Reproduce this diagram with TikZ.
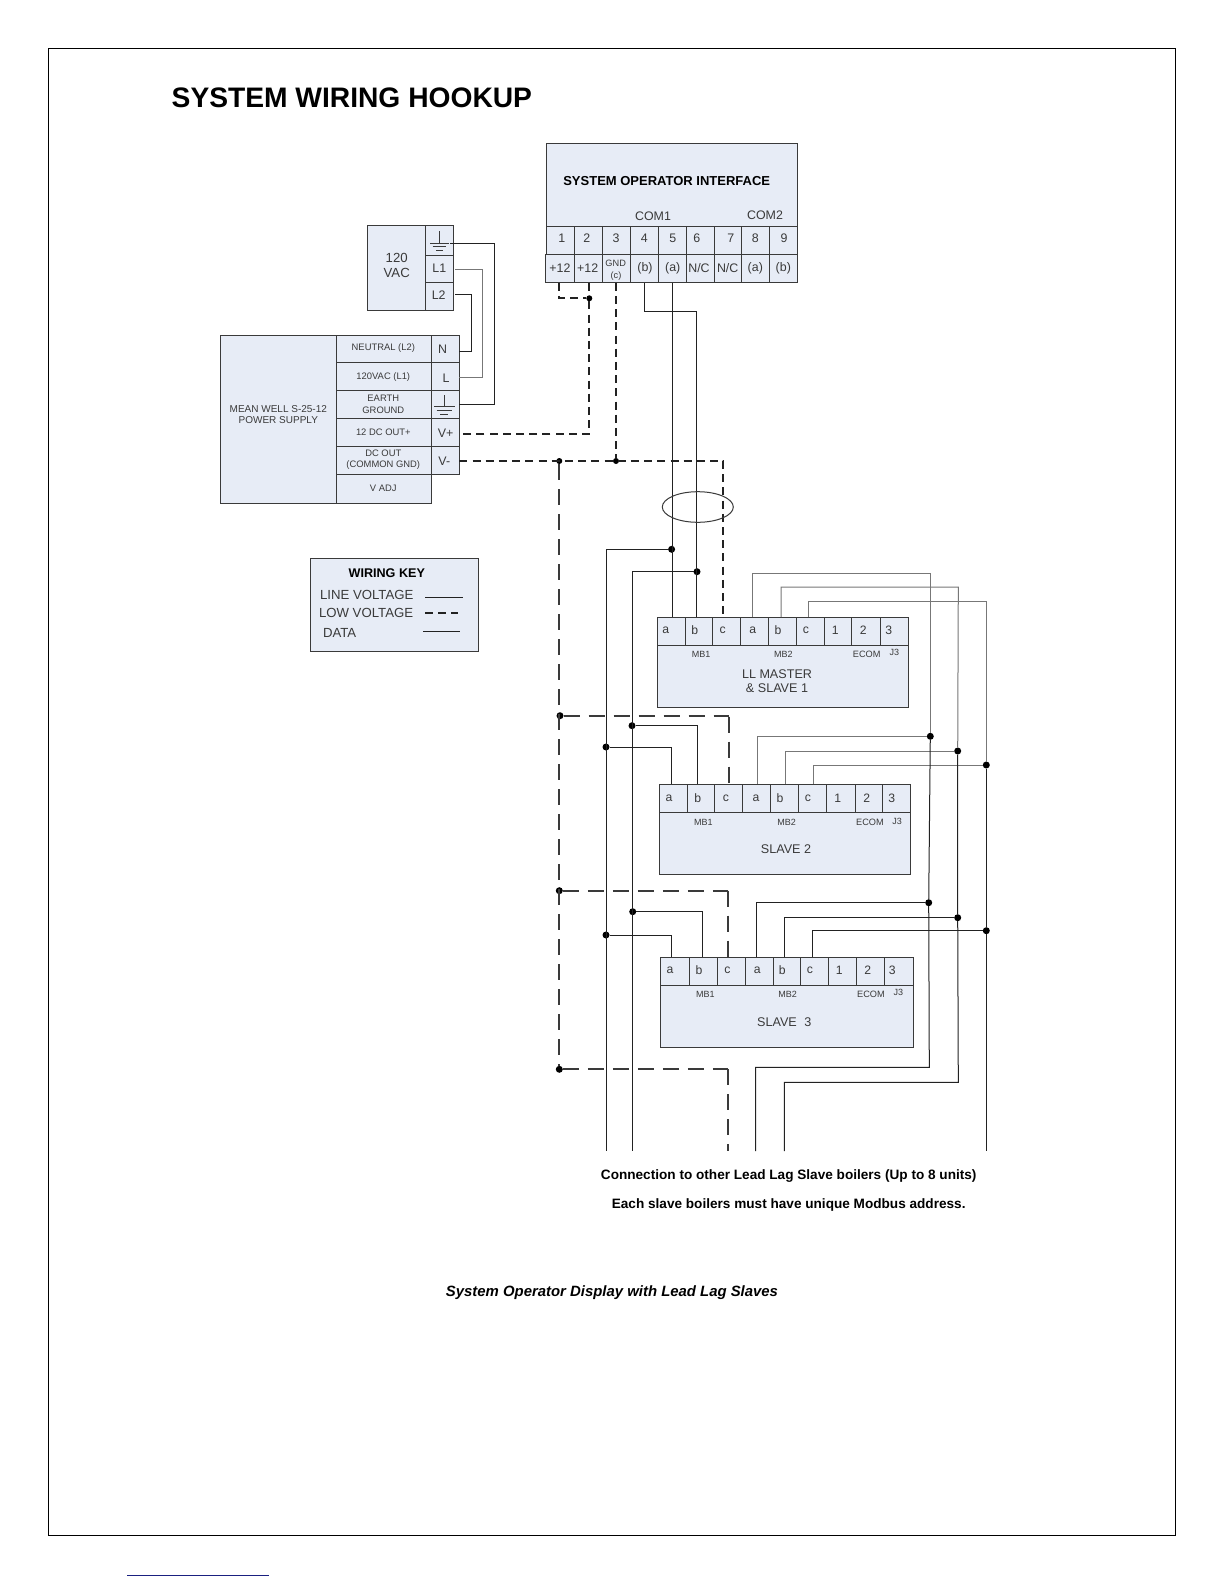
\documentclass[tikz,border=0pt]{standalone}
\usepackage{fontspec}
\usetikzlibrary{shapes.geometric}
\setmainfont{Liberation Sans}
\definecolor{boxfill}{HTML}{E7ECF6}
\definecolor{ink}{HTML}{3A3A3A}
\definecolor{wire}{HTML}{222222}
\definecolor{greywire}{HTML}{777777}
\definecolor{navy}{HTML}{1A2080}
\newcommand\Cell[5]{%
  \pgfmathsetlengthmacro\cellW{((#4)-(#2))*0.5pt}%
  \pgfmathsetlengthmacro\cellH{((#5)-(#3))*0.5pt}%
  \node[cellbox,minimum width=\cellW,minimum height=\cellH] (#1) at ({((#2)+(#4))/2},{((#3)+(#5))/2}) {};}
\newcommand\Fs[1]{\fontsize{#1}{#1}\selectfont}
\tikzset{
  x=0.5pt,y=-0.5pt,
  cellbox/.style={draw=ink,fill=boxfill,line width=0.5pt,inner sep=0pt,outer sep=0pt},
  lab/.style={inner sep=0pt,outer sep=0pt,text=ink,font=\Fs{6.2}},
  tiny/.style={lab,font=\Fs{4.7},align=center},
  mid/.style={lab,font=\Fs{6.3},align=center},
  heavy/.style={inner sep=0pt,outer sep=0pt,text=black,font=\bfseries\Fs{6.2}},
  linev/.style={draw=wire,line width=0.5pt},
  datav/.style={draw=wire,line width=0.5pt},
  greyv/.style={draw=greywire,line width=0.5pt},
  lowv/.style={draw=wire,line width=1.05pt,dash pattern=on 4pt off 2.6pt},
  lowvlong/.style={draw=ink,line width=0.85pt,dash pattern=on 8pt off 4.5pt},
  jdot/.style={circle,fill=black,inner sep=0pt,minimum size=3.5pt,outer sep=0pt},
  gnd/.style={draw=ink,line width=0.5pt},
}
\begin{document}
\begin{tikzpicture}
\useasboundingbox (0,0) rectangle (1224,1584);
\fill[white] (0,0) rectangle (1224,1584);
% page frame and footer rule
\draw[black,line width=0.5pt] (48.5,48.5) rectangle (1175.5,1535);
\draw[navy,line width=0.6pt] (127,1575.3) -- (269,1575.3);
\node[heavy,anchor=west,font=\bfseries\Fs{14.1}] (title) at (171.7,98) {SYSTEM WIRING HOOKUP};

% ---------- system operator interface
\Cell{soi}{546.7}{143.3}{797.3}{226.7}
\node[heavy,font=\bfseries\Fs{6.5}] (soititle) at (666.7,181) {SYSTEM OPERATOR INTERFACE};
\node[lab] (com1) at (653,216) {COM1};
\node[lab] (com2) at (765,215) {COM2};
\foreach \n/\a/\b/\t/\tx in {1/546.7/574.3/1/561.7,2/574.3/602.3/2/586.7,3/602.3/630.3/3/616,4/630.3/658/4/644.3,5/658/686/5/672.7,6/686/714/6/696.7,7/714/741.7/7/730.7,8/741.7/769.3/8/755.3,9/769.3/797.3/9/784}{
  \Cell{st\n}{\a}{226.7}{\b}{254.3}
  \node[lab] (stl\n) at (\tx,238) {\t};
}
\foreach \n/\a/\b/\t/\tx in {1/545.3/574.3/+12/560,2/574.3/602.3/+12/587.7,4/630.3/658/(b)/645,5/658/686/(a)/672.7,6/686/714/N\slash C/699,7/714/741.7/N\slash C/727.7,8/741.7/769.3/(a)/755.3,9/769.3/797.3/(b)/783.3}{
  \Cell{sb\n}{\a}{254.3}{\b}{282.7}
  \node[lab] (sbl\n) at (\tx,268) {\t};
}
\Cell{sb3}{602.3}{254.3}{630.3}{282.7}
\node[tiny,font=\Fs{4.6}] (sbl3a) at (615.7,263.5) {GND};
\node[tiny,font=\Fs{4.6}] (sbl3b) at (616,276.5) {(c)};

% ---------- 120 VAC
\Cell{vac}{367.3}{225}{425.3}{310.7}
\node[mid,font=\Fs{6.6}] (vac1) at (396.7,258.3) {120};
\node[mid,font=\Fs{6.6}] (vac2) at (396.7,273.3) {VAC};
\Cell{vacg}{425.3}{225}{453.3}{255}
\Cell{vacl1}{425.3}{255}{453.3}{282.7}
\Cell{vacl2}{425.3}{282.7}{453.3}{310.7}
\node[lab] (vacl1t) at (439.3,268.3) {L1};
\node[lab] (vacl2t) at (438.7,295) {L2};
\draw[gnd] (439.3,231) -- (439.3,243.3) (430,243.3) -- (448.7,243.3) (432.7,246.7) -- (446,246.7) (436,250) -- (442.7,250);

% ---------- power supply
\Cell{psmain}{220}{335}{336}{503.3}
\node[tiny,font=\Fs{5}] (pstxt) at (278.3,414.5) {MEAN WELL S-25-12\\[0.6pt]POWER SUPPLY};
\foreach \n/\a/\b in {a/335/362.7,b/362.7/390.3,c/390.3/418.3,d/418.3/446,e/446/474.3,f/474.3/503.3}{
  \Cell{ps\n}{336}{\a}{431}{\b}
}
\foreach \n/\a/\b in {a/335/362.7,b/362.7/390.3,c/390.3/418.3,d/418.3/446,e/446/474.3}{
  \Cell{pr\n}{431}{\a}{459}{\b}
}
\node[tiny] (psat) at (383.3,348.3) {NEUTRAL (L2)};
\node[tiny] (psbt) at (383.3,376.7) {120VAC (L1)};
\node[tiny] (psct) at (383.3,404.2) {EARTH\\[1pt]GROUND};
\node[tiny] (psdt) at (383.3,432.3) {12 DC OUT+};
\node[tiny] (pset) at (383.3,459.5) {DC OUT\\[1pt](COMMON GND)};
\node[tiny] (psft) at (383.3,488.3) {V ADJ};
\node[lab] (pran) at (442.7,349.3) {N};
\node[lab] (prbn) at (446,378.3) {L};
\node[lab] (prdn) at (445.7,433.3) {V+};
\node[lab] (pren) at (444.3,461) {V-};
\draw[gnd] (444.3,395) -- (444.3,406.7) (434,406.7) -- (455,406.7) (436.7,410) -- (451.7,410) (440,414) -- (448.3,414);

% AC wires
\coordinate (vgo) at (450,243.3);
\coordinate (vlo) at (455,269);
\coordinate (v2o) at (455,294.3);
\coordinate (pgi) at (459.3,404.3);
\coordinate (pli) at (459.3,377.7);
\coordinate (pni) at (459.3,351.7);
\coordinate (tg) at (494,243.3);
\coordinate (tl) at (482.7,269);
\coordinate (tn) at (471.7,294.3);
\draw[linev] (vgo) -- (tg) -- (tg |- pgi) -- (pgi);
\draw[greyv] (vlo) -- (tl) -- (tl |- pli) -- (pli);
\draw[linev] (v2o) -- (tn) -- (tn |- pni) -- (pni);

% ---------- wiring key
\Cell{key}{310}{558.5}{478.7}{651.4}
\node[heavy,font=\bfseries\Fs{6.3}] (keyt) at (386.8,573.5) {WIRING KEY};
\node[lab,anchor=west,font=\Fs{6.6}] (k1) at (320,595) {LINE VOLTAGE};
\node[lab,anchor=west,font=\Fs{6.6}] (k2) at (319,613) {LOW VOLTAGE};
\node[lab,anchor=west,font=\Fs{6.6}] (k3) at (323,633) {DATA};
\coordinate (k1a) at (425,597); \coordinate (k1b) at (462.5,597);
\coordinate (k2a) at (425,613); \coordinate (k2b) at (457.5,613);
\coordinate (k3a) at (423,631); \coordinate (k3b) at (459.5,631);
\draw[linev] (k1a) -- (k1b);
\draw[lowv] (k2a) -- (k2b);
\draw[linev] (k3a) -- (k3b);

% ---------- boards
\foreach \p/\lx/\ty/\rx/\my/\by/\xs in {
  m/657/617/908.3/645/707.7/{685,712.7,740.7,768.3,796.3,824,851.7,880.7},
  s/659.3/784/910.7/812/874.3/{687,714.7,742.7,770.3,798.3,826,855,882.7},
  t/660.7/957.3/913/985/1047.7/{689.3,717.3,745.3,773,800.7,828.7,856.3,884}}{
  \Cell{\p body}{\lx}{\my}{\rx}{\by}
  \Cell{\p row}{\lx}{\ty}{\rx}{\my}
  \foreach \v [count=\i] in \xs { \coordinate (\p div\i) at (\v,\ty); \draw[draw=ink,line width=0.5pt] (\v,\ty) -- (\v,\my); }
}
\foreach \p/\yy/\xs in {
  m/630.5/{665.7,694.7,722.7,752.7,778,806,835.3,863.3,888.7},
  s/798/{669,697.7,726,756,780,808,837.7,866.7,891.7},
  t/970/{670,699,727.3,757.3,782.3,810,839.3,867.7,892.3}}{
  \foreach \v [count=\i] in {a,b,c,a,b,c,1,2,3}{
    \pgfmathsetmacro\labx{{\xs}[\i-1]}
    \node[lab,font=\Fs{6.1}] (\p l\i) at (\labx,\yy) {\v};
  }
}
\node[tiny,font=\Fs{4.5}] (mmb1) at (701,654) {MB1};
\node[tiny,font=\Fs{4.5}] (mmb2) at (783.3,654) {MB2};
\node[tiny,font=\Fs{4.6}] (mec) at (866.7,654) {ECOM};
\node[tiny,font=\Fs{4.5}] (mj3) at (894.3,652.7) {J3};
\node[mid] (mname) at (777,681) {LL MASTER\\[0.4pt]\& SLAVE 1};
\node[tiny,font=\Fs{4.5}] (smb1) at (703.3,822) {MB1};
\node[tiny,font=\Fs{4.5}] (smb2) at (786.7,822) {MB2};
\node[tiny,font=\Fs{4.6}] (sec) at (870,822) {ECOM};
\node[tiny,font=\Fs{4.5}] (sj3) at (897,821) {J3};
\node[mid] (sname) at (786,848.7) {SLAVE 2};
\node[tiny,font=\Fs{4.5}] (tmb1) at (705.3,994) {MB1};
\node[tiny,font=\Fs{4.5}] (tmb2) at (787.7,994) {MB2};
\node[tiny,font=\Fs{4.6}] (tec) at (871,994) {ECOM};
\node[tiny,font=\Fs{4.5}] (tj3) at (898.3,992.7) {J3};
\node[mid] (tname) at (784.3,1021.7) {SLAVE\hspace{2pt} 3};

% ---------- junctions
\node[jdot,minimum size=3pt] (j12) at (589.3,298.3) {};
\node[jdot,minimum size=3pt] (jgnd) at (616,461) {};
\node[jdot,minimum size=3pt] (jl0) at (559.3,461) {};
\node[jdot] (ja0) at (671.6,549.3) {};
\node[jdot] (jb0) at (697,571.7) {};
\node[jdot] (jl1) at (560,715.7) {};
\node[jdot] (jl2) at (559.3,890.7) {};
\node[jdot] (jl3) at (559.3,1069.3) {};
\node[jdot] (jb1) at (632,725.7) {};
\node[jdot] (ja1) at (606,747) {};
\node[jdot] (jb2) at (632.7,911.7) {};
\node[jdot] (ja2) at (606,935) {};
\node[jdot] (jr1) at (930.3,736.3) {};
\node[jdot] (jr2) at (957.7,751) {};
\node[jdot] (jr3) at (986.3,765) {};
\node[jdot] (jq1) at (928.7,902.7) {};
\node[jdot] (jq2) at (957.7,917.7) {};
\node[jdot] (jq3) at (986.3,930.7) {};

% ---------- low voltage wiring
\coordinate (s12a) at (559.3,282.7);
\coordinate (s12b) at (589.3,282.7);
\coordinate (s3) at (616,282.7);
\coordinate (bend12) at (559.3,298.3);
\coordinate (vplus) at (459.3,434);
\coordinate (vminus) at (459.3,461);
\coordinate (vc) at (723.3,461);
\coordinate (mc) at (723.3,617);
\draw[lowv] (s12a) -- (bend12) -- (j12);
\draw[lowv] (s12b) -- (j12) -- (j12 |- vplus) -- (vplus);
\draw[lowv] (s3) -- (jgnd);
\draw[lowv] (vminus) -- (vc) -- (mc);
\draw[lowvlong] (jl0) -- (jl3);
\coordinate (c1a) at (729.3,716.7); \coordinate (c1b) at (729.3,784);
\coordinate (c2a) at (728.3,890.7); \coordinate (c2b) at (728.3,957.3);
\coordinate (c3a) at (728.3,1069.3); \coordinate (c3b) at (728.3,1151);
\draw[lowvlong] (jl1) -- (c1a |- jl1);
\draw[lowvlong] (c1a) -- (c1b);
\draw[lowvlong] (jl2) -- (c2a);
\draw[lowvlong] (c2a) -- (c2b);
\draw[lowvlong] (jl3) -- (c3a);
\draw[lowvlong] (c3a) -- (c3b);

% ---------- MB1 data
\coordinate (s4) at (644,282.7);
\coordinate (s5) at (672,282.7);
\coordinate (m1a) at (672,617);
\coordinate (m1b) at (696.7,617);
\coordinate (bus4) at (644,311);
\draw[datav] (s5) -- (m1a);
\draw[datav] (s4) -- (bus4) -- (m1b |- bus4) -- (m1b);
\coordinate (busaend) at (606,1151);
\coordinate (busbend) at (632.2,1151);
\draw[datav] (ja0) -- (busaend |- ja0) -- (busaend);
\draw[datav] (jb0) -- (busbend |- jb0) -- (busbend);
\coordinate (s1a) at (671,784); \coordinate (s1b) at (697.7,784);
\coordinate (t1a) at (671,957.3); \coordinate (t1b) at (702.3,957.3);
\draw[datav] (jb1) -- (s1b |- jb1) -- (s1b);
\draw[datav] (ja1) -- (s1a |- ja1) -- (s1a);
\draw[datav] (jb2) -- (t1b |- jb2) -- (t1b);
\draw[datav] (ja2) -- (t1a |- ja2) -- (t1a);

% ---------- MB2 data
\coordinate (m2a) at (752.7,617); \coordinate (m2b) at (781,617); \coordinate (m2c) at (808.7,617);
\coordinate (s2a) at (757.3,784); \coordinate (s2b) at (785.7,784); \coordinate (s2c) at (813.3,784);
\coordinate (t2a) at (756.7,957.3); \coordinate (t2b) at (784.7,957.3); \coordinate (t2c) at (812,957.3);
\coordinate (ra) at (930.3,573.3); \coordinate (rb) at (958.3,587); \coordinate (rc) at (986.3,601.7);
\coordinate (ra2) at (929.3,1067.3); \coordinate (rb2) at (958.3,1082.3); \coordinate (rc2) at (986.3,1151);
\coordinate (oa) at (755.7,1151); \coordinate (ob) at (784.3,1151);
\draw[greyv] (m2a) -- (m2a |- ra) -- (ra) -- (jr1);
\draw[greyv] (m2b) -- (m2b |- rb) -- (rb) -- (jr2);
\draw[greyv] (m2c) -- (m2c |- rc) -- (rc) -- (jr3);
\draw[greyv] (s2a) -- (s2a |- jr1) -- (jr1);
\draw[greyv] (s2b) -- (s2b |- jr2) -- (jr2);
\draw[greyv] (s2c) -- (s2c |- jr3) -- (jr3);
\draw[datav] (jr1) -- (jq1) -- (ra2) -- (oa |- ra2) -- (oa);
\draw[datav] (jr2) -- (jq2) -- (rb2) -- (ob |- rb2) -- (ob);
\draw[datav] (jr3) -- (jq3) -- (rc2);
\draw[datav] (t2a) -- (t2a |- jq1) -- (jq1);
\draw[datav] (t2b) -- (t2b |- jq2) -- (jq2);
\draw[datav] (t2c) -- (t2c |- jq3) -- (jq3);

% cable marker
\node[draw=ink,ellipse,line width=0.5pt,minimum width=35.5pt,minimum height=15.3pt,inner sep=0pt] (cable) at (697.8,507) {};

% ---------- notes
\node[heavy,font=\bfseries\Fs{6.8}] (note1) at (788.7,1176) {Connection to other Lead Lag Slave boilers (Up to 8 units)};
\node[heavy,font=\bfseries\Fs{6.8}] (note2) at (788.7,1205) {Each slave boilers must have unique Modbus address.};
\node[heavy,font=\bfseries\itshape\Fs{7.45}] (cap) at (612,1292.6) {System Operator Display with Lead Lag Slaves};
\end{tikzpicture}
\end{document}
